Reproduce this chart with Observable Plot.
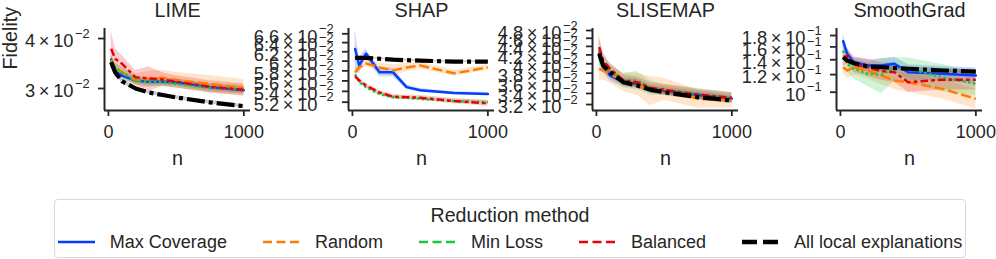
<!DOCTYPE html>
<html>
<head>
<meta charset="utf-8">
<script src="https://cdn.jsdelivr.net/npm/d3@7"></script>
<script src="https://cdn.jsdelivr.net/npm/@observablehq/plot@0.6"></script>
<style>
  body { margin: 0; background: #fff; font-family: "Liberation Sans", Arial, sans-serif; color: #262626; }
  #fig { position: relative; width: 996px; height: 259px; overflow: hidden; background: #fff; }
  .panel { position: absolute; top: 0; }
  #legend { position: absolute; left: 54px; top: 199px; width: 912px; height: 59px; box-sizing: border-box;
            border: 1px solid #d9d9d9; border-radius: 4px; background: #fff; }
  #ltitle { position: absolute; left: 0; right: 0; top: 5px; text-align: center; font-size: 19.6px; line-height: 20px; }
  #litems { position: absolute; left: 0; right: 0; top: 33px; display: flex; justify-content: center; gap: 36px;
            font-size: 18px; line-height: 18px; align-items: center; }
  .item { display: flex; align-items: center; white-space: nowrap; }
  .item svg { margin-right: 15px; display: block; }
</style>
</head>
<body>
<div id="fig">
  <div id="legend"><div id="ltitle">Reduction method</div><div id="litems"></div></div>
</div>
<script>
// ---------------- data ----------------
const nValues = [20, 50, 100, 200, 300, 400, 500, 750, 1000];
const methodNames = ["Max Coverage", "Random", "Min Loss", "Balanced", "All local explanations"];
const xTicks = [0, 1000];

// LIME
const limeMaxCoverage = [0.0354, 0.0331, 0.0323, 0.0314, 0.0312, 0.0312, 0.0311, 0.0302, 0.0297];
const limeRandom      = [0.0354, 0.0337, 0.0329, 0.0314, 0.0317, 0.0319, 0.0315, 0.0308, 0.0301];
const limeMinLoss     = [0.0351, 0.0339, 0.0329, 0.0314, 0.0311, 0.0311, 0.0308, 0.0301, 0.0298];
const limeBalanced    = [0.0377, 0.0356, 0.0346, 0.0320, 0.0318, 0.0316, 0.0312, 0.0303, 0.0298];
const limeAllLocal    = [0.0349, 0.0329, 0.0313, 0.0300, 0.0293, 0.0289, 0.0285, 0.0277, 0.0271];
const limeMaxCoverageErr = [0.03, 0.03, 0.025, 0.02, 0.02, 0.02, 0.02, 0.02, 0.02];
const limeRandomErr      = [0.03, 0.03, 0.03, 0.04, 0.045, 0.045, 0.045, 0.05, 0.05];
const limeMinLossErr     = [0.03, 0.03, 0.03, 0.025, 0.025, 0.025, 0.025, 0.025, 0.025];
const limeBalancedErr    = [0.11, 0.06, 0.05, 0.04, 0.07, 0.04, 0.035, 0.035, 0.035];
const limeAllLocalErr    = [0.02, 0.015, 0.012, 0.01, 0.01, 0.01, 0.01, 0.01, 0.01];
const limeTicks = [0.03, 0.04];
const limeTickLabels = ["3 × 10", "4 × 10"];

// SHAP
const shapMaxCoverage = [0.0626, 0.0591, 0.0616, 0.0577, 0.0577, 0.0548, 0.0542, 0.0537, 0.0535];
const shapRandom      = [0.0577, 0.0587, 0.0595, 0.0587, 0.0581, 0.0587, 0.0591, 0.0575, 0.0587];
const shapMinLoss     = [0.0573, 0.0558, 0.0548, 0.0535, 0.0529, 0.0528, 0.0526, 0.0522, 0.0520];
const shapBalanced    = [0.0569, 0.0561, 0.0551, 0.0538, 0.0530, 0.0529, 0.0528, 0.0522, 0.0518];
const shapAllLocal    = [0.0607, 0.0607, 0.0607, 0.0605, 0.0603, 0.0602, 0.0601, 0.0599, 0.0599];
const shapMaxCoverageErr = [0.07, 0.03, 0.015, 0.015, 0.015, 0.008, 0.006, 0.005, 0.005];
const shapRandomErr      = [0.008, 0.01, 0.012, 0.015, 0.02, 0.015, 0.012, 0.01, 0.01];
const shapMinLossErr     = [0.006, 0.006, 0.006, 0.006, 0.006, 0.006, 0.006, 0.006, 0.007];
const shapBalancedErr    = [0.007, 0.007, 0.007, 0.007, 0.007, 0.007, 0.008, 0.009, 0.01];
const shapAllLocalErr    = [0.003, 0.003, 0.003, 0.003, 0.003, 0.003, 0.003, 0.003, 0.003];
const shapTicks = [0.052, 0.054, 0.056, 0.058, 0.06, 0.062, 0.064, 0.066];
const shapTickLabels = ["5.2 × 10", "5.4 × 10", "5.6 × 10", "5.8 × 10", "6 × 10", "6.2 × 10", "6.4 × 10", "6.6 × 10"];

// SLISEMAP
const slisemapMaxCoverage = [0.04225, 0.03926, 0.03751, 0.03616, 0.03584, 0.03487, 0.03455, 0.03375, 0.03302];
const slisemapRandom      = [0.03892, 0.03856, 0.03786, 0.03616, 0.03584, 0.03455, 0.03487, 0.03302, 0.03271];
const slisemapMinLoss     = [0.04302, 0.04035, 0.03856, 0.03650, 0.03650, 0.03507, 0.03468, 0.03393, 0.03312];
const slisemapBalanced    = [0.04380, 0.04073, 0.03892, 0.03650, 0.03616, 0.03507, 0.03468, 0.03380, 0.03320];
const slisemapAllLocal    = [0.04225, 0.03963, 0.03820, 0.03616, 0.03551, 0.03468, 0.03423, 0.03331, 0.03271];
const slisemapMaxCoverageErr = [0.04, 0.03, 0.03, 0.025, 0.025, 0.02, 0.02, 0.02, 0.02];
const slisemapRandomErr      = [0.06, 0.05, 0.05, 0.05, 0.06, 0.08, 0.06, 0.05, 0.04];
const slisemapMinLossErr     = [0.07, 0.05, 0.04, 0.04, 0.05, 0.04, 0.03, 0.03, 0.03];
const slisemapBalancedErr    = [0.07, 0.04, 0.03, 0.03, 0.03, 0.03, 0.03, 0.03, 0.03];
const slisemapAllLocalErr    = [0.015, 0.012, 0.01, 0.01, 0.01, 0.01, 0.01, 0.01, 0.01];
const slisemapTicks = [0.032, 0.034, 0.036, 0.038, 0.04, 0.042, 0.044, 0.046, 0.048];
const slisemapTickLabels = ["3.2 × 10", "3.4 × 10", "3.6 × 10", "3.8 × 10", "4 × 10", "4.2 × 10", "4.4 × 10", "4.6 × 10", "4.8 × 10"];

// SmoothGrad
const smoothgradMaxCoverage = [0.1697, 0.1489, 0.1365, 0.1319, 0.1319, 0.1342, 0.1230, 0.1210, 0.1189];
const smoothgradRandom      = [0.1296, 0.1252, 0.1296, 0.1252, 0.1189, 0.1129, 0.1109, 0.1036, 0.0934];
const smoothgradMinLoss     = [0.1541, 0.1342, 0.1275, 0.1210, 0.1201, 0.1275, 0.1275, 0.1169, 0.1091];
const smoothgradBalanced    = [0.1413, 0.1463, 0.1333, 0.1296, 0.1244, 0.1230, 0.1109, 0.1137, 0.1137];
const smoothgradAllLocal    = [0.1438, 0.1389, 0.1351, 0.1305, 0.1296, 0.1283, 0.1275, 0.1252, 0.1239];
const smoothgradMaxCoverageErr = [0.08, 0.05, 0.05, 0.06, 0.07, 0.07, 0.08, 0.08, 0.08];
const smoothgradRandomErr      = [0.06, 0.08, 0.08, 0.08, 0.09, 0.09, 0.1, 0.1, 0.1];
const smoothgradMinLossErr     = [0.06, 0.08, 0.1, 0.12, 0.18, 0.12, 0.12, 0.14, 0.12];
const smoothgradBalancedErr    = [0.08, 0.08, 0.08, 0.09, 0.09, 0.1, 0.1, 0.1, 0.1];
const smoothgradAllLocalErr    = [0.02, 0.02, 0.02, 0.02, 0.02, 0.02, 0.02, 0.02, 0.02];
const smoothgradTicks = [0.1, 0.12, 0.14, 0.16, 0.18];
const smoothgradTickLabels = ["10", "1.2 × 10", "1.4 × 10", "1.6 × 10", "1.8 × 10"];

// ---------------- styles ----------------
const ink = "#262626";
const methodColors = ["#023eff", "#ff7c00", "#1ac938", "#e8000b", "#000000"];
const lineWidths = [2.5, 2.5, 2.5, 2.5, 4.2];
const lineDashes = [null, "10,3.75", "2.5,2.5", "7.5,3.1,3.75,3.1", "18,4,4,4"];
const legendDashes = [null, "9,4.5", "9,4.5", "9,4.5", "15,6"];
const legendWidths = [2.6, 2.6, 2.6, 2.6, 4.5];
const FONT = "'Liberation Sans', Arial, sans-serif";

const panels = [
  {name: "LIME", left: 0, ylabel: true, exp: "−2", domain: [0.02643, 0.04238],
   series: [limeMaxCoverage, limeRandom, limeMinLoss, limeBalanced, limeAllLocal],
   errs: [limeMaxCoverageErr, limeRandomErr, limeMinLossErr, limeBalancedErr, limeAllLocalErr],
   ticks: limeTicks, labels: limeTickLabels},
  {name: "SHAP", left: 244, exp: "−2", domain: [0.05051, 0.06723],
   series: [shapMaxCoverage, shapRandom, shapMinLoss, shapBalanced, shapAllLocal],
   errs: [shapMaxCoverageErr, shapRandomErr, shapMinLossErr, shapBalancedErr, shapAllLocalErr],
   ticks: shapTicks, labels: shapTickLabels},
  {name: "SLISEMAP", left: 488, exp: "−2", domain: [0.03097, 0.04853],
   series: [slisemapMaxCoverage, slisemapRandom, slisemapMinLoss, slisemapBalanced, slisemapAllLocal],
   errs: [slisemapMaxCoverageErr, slisemapRandomErr, slisemapMinLossErr, slisemapBalancedErr, slisemapAllLocalErr],
   ticks: slisemapTicks, labels: slisemapTickLabels},
  {name: "SmoothGrad", left: 732, exp: "−1", domain: [0.0827, 0.1936],
   series: [smoothgradMaxCoverage, smoothgradRandom, smoothgradMinLoss, smoothgradBalanced, smoothgradAllLocal],
   errs: [smoothgradMaxCoverageErr, smoothgradRandomErr, smoothgradMinLossErr, smoothgradBalancedErr, smoothgradAllLocalErr],
   ticks: smoothgradTicks, labels: smoothgradTickLabels}
];

const xDomain = [-29, 1049];
const fig = document.getElementById("fig");

panels.forEach(p => {
  const mainMap = new Map(p.ticks.map((t, i) => [t, p.labels[i].replace(/ /g, "\u2009")]));
  const bands = [], lines = [];
  p.series.forEach((vals, k) => {
    const rows = vals.map((v, i) => ({n: nValues[i], y: v, lo: v * (1 - p.errs[k][i]), hi: v * (1 + p.errs[k][i])}));
    bands.push(Plot.areaY(rows, {x: "n", y1: "lo", y2: "hi", fill: methodColors[k], fillOpacity: 0.2, clip: true}));
    const opts = {x: "n", y: "y", stroke: methodColors[k], strokeWidth: lineWidths[k], clip: true, strokeLinejoin: "round"};
    if (lineDashes[k]) { opts.strokeDasharray = lineDashes[k]; opts.strokeLinecap = "butt"; }
    lines.push(Plot.line(rows, opts));
  });
  const marks = [
    ...bands, ...lines,
    Plot.ruleX([xDomain[0]], {stroke: ink, strokeWidth: 2}),
    Plot.ruleY([p.domain[0]], {stroke: ink, strokeWidth: 2}),
    Plot.axisX({ticks: xTicks, tickSize: 6, tickPadding: 9, strokeWidth: 1.8, fontSize: 18, label: null, tickFormat: d => String(d)}),
    Plot.axisY({ticks: p.ticks, tickSize: 6, strokeWidth: 1.8, fill: "none", label: null}),
    Plot.axisY({ticks: p.ticks, tickSize: 0, tickPadding: 31, tickFormat: d => mainMap.get(d), fontSize: 18.3, dy: 3, label: null}),
    Plot.axisY({ticks: p.ticks, tickSize: 0, tickPadding: 15, tickFormat: () => p.exp, fontSize: 12.8, dy: -5, label: null}),
    Plot.text([p.name], {text: d => d, frameAnchor: "top", dy: -12, lineAnchor: "bottom", fontSize: 19.8}),
    Plot.text(["n"], {text: d => d, frameAnchor: "bottom", dy: 54, lineAnchor: "bottom", fontSize: 19.8})
  ];
  if (p.ylabel) marks.push(Plot.text(["Fidelity"], {text: d => d, frameAnchor: "left", dx: -94, rotate: -90, fontSize: 19.8}));
  const chart = Plot.plot({
    width: 263, height: 180,
    marginLeft: 104, marginRight: 13, marginTop: 28, marginBottom: 70,
    x: {domain: xDomain},
    y: {type: "log", domain: p.domain},
    style: {fontFamily: FONT, color: ink, background: "transparent", overflow: "visible"},
    marks
  });
  chart.classList.add("panel");
  chart.style.left = p.left + "px";
  fig.appendChild(chart);
});

// ---------------- legend ----------------
const litems = document.getElementById("litems");
methodNames.forEach((m, k) => {
  const item = document.createElement("div");
  item.className = "item";
  const dash = legendDashes[k] ? ` stroke-dasharray="${legendDashes[k]}"` : "";
  item.innerHTML = `<svg width="37" height="12"><line x1="0" x2="37" y1="6" y2="6" stroke="${methodColors[k]}" stroke-width="${legendWidths[k]}"${dash}/></svg><span>${m}</span>`;
  litems.appendChild(item);
});
</script>
</body>
</html>
